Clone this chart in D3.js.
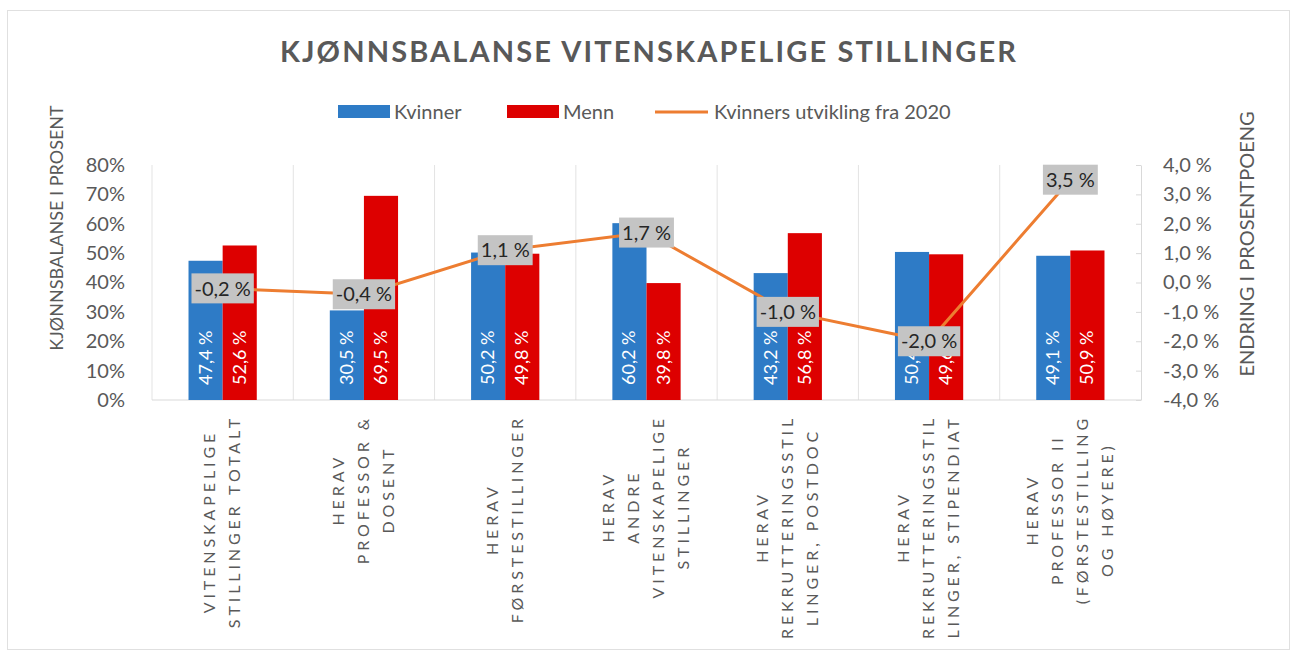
<!DOCTYPE html>
<html lang="no">
<head>
<meta charset="utf-8">
<script src="https://cdn.jsdelivr.net/npm/d3@7"></script>
<style>
body { margin: 0; background: #ffffff; font-family: Lato, "Open Sans", sans-serif; }
.axis text { fill: #595959; font-family: Lato, sans-serif; }
.axis path, .axis line { stroke: #d9d9d9; }
</style>
</head>
<body>
<div id="chart"></div>
<script>
// chart values
var categories = [
  ["VITENSKAPELIGE", "STILLINGER TOTALT"],
  ["HERAV", "PROFESSOR &", "DOSENT"],
  ["HERAV", "FØRSTESTILLINGER"],
  ["HERAV", "ANDRE", "VITENSKAPELIGE", "STILLINGER"],
  ["HERAV", "REKRUTTERINGSSTIL", "LINGER, POSTDOC"],
  ["HERAV", "REKRUTTERINGSSTIL", "LINGER, STIPENDIAT"],
  ["HERAV", "PROFESSOR II", "(FØRSTESTILLING", "OG HØYERE)"]
];
var kvinner = [47.4, 30.5, 50.2, 60.2, 43.2, 50.4, 49.1];
var menn = [52.6, 69.5, 49.8, 39.8, 56.8, 49.6, 50.9];
var utvikling = [-0.2, -0.4, 1.1, 1.7, -1.0, -2.0, 3.5];
var leftTicks = [0, 10, 20, 30, 40, 50, 60, 70, 80];
var rightTicks = [-4, -3, -2, -1, 0, 1, 2, 3, 4];

var width = 1293, height = 657;
var plotL = 152, plotR = 1141, plotT = 165, plotB = 400;

var blue = "#2e7bc6", red = "#dd0000", orange = "#ed7d31";

var no = d3.formatLocale({decimal: ",", thousands: " ", grouping: [3], currency: ["", " kr"], minus: "-"});
var fmt1 = no.format(".1f");

var svg = d3.select("#chart").append("svg")
  .attr("width", width)
  .attr("height", height);

// frame
svg.append("rect")
  .attr("x", 7.5).attr("y", 10.5)
  .attr("width", 1282).attr("height", 639)
  .attr("fill", "#fff")
  .attr("stroke", "#e0e0e0");

// title
svg.append("text")
  .attr("x", 280).attr("y", 62)
  .attr("textLength", 736)
  .attr("lengthAdjust", "spacing")
  .style("font-size", "29px")
  .style("font-weight", "bold")
  .style("fill", "#595959")
  .text("KJØNNSBALANSE VITENSKAPELIGE STILLINGER");

// legend
var legend = svg.append("g").style("font-size", "20px").style("fill", "#595959");
legend.append("rect").attr("x", 338).attr("y", 105).attr("width", 52).attr("height", 13).attr("fill", blue);
legend.append("text").attr("x", 394).attr("y", 119).text("Kvinner");
legend.append("rect").attr("x", 507).attr("y", 105).attr("width", 52).attr("height", 13).attr("fill", red);
legend.append("text").attr("x", 563).attr("y", 119).text("Menn");
legend.append("line").attr("x1", 655).attr("x2", 708).attr("y1", 112).attr("y2", 112)
  .attr("stroke", orange).attr("stroke-width", 3);
legend.append("text").attr("x", 714).attr("y", 119).text("Kvinners utvikling fra 2020");

// scales
var x0 = d3.scaleBand().domain(d3.range(categories.length)).range([plotL, plotR]);
var x1 = d3.scaleBand().domain(["k", "m"]).range([0, x0.bandwidth()]).paddingOuter(1.07);
var yL = d3.scaleLinear().domain([0, 80]).range([plotB, plotT]);
var yR = d3.scaleLinear().domain([-4, 4]).range([plotB, plotT]);

// vertical gridlines between categories
svg.append("g").selectAll("line")
  .data(d3.range(categories.length))
  .enter().append("line")
  .attr("x1", function(d) { return x0(d); })
  .attr("x2", function(d) { return x0(d); })
  .attr("y1", plotT).attr("y2", plotB)
  .attr("stroke", "#e3e3e3");

// left axis
var axL = svg.append("g").attr("class", "axis")
  .attr("transform", "translate(" + plotL + ",0)")
  .call(d3.axisLeft(yL).tickValues(leftTicks).tickSize(0).tickPadding(27)
    .tickFormat(function(d) { return d + "%"; }));
axL.select(".domain").remove();
axL.selectAll("text").style("font-size", "20px");

// right axis
var axR = svg.append("g").attr("class", "axis")
  .attr("transform", "translate(" + plotR + ",0)")
  .call(d3.axisRight(yR).tickValues(rightTicks).tickSizeInner(-5).tickSizeOuter(0).tickPadding(22)
    .tickFormat(function(d) { return fmt1(d) + " %"; }));
axR.selectAll("text").style("font-size", "20px");

// baseline
svg.append("line")
  .attr("x1", plotL).attr("x2", plotR)
  .attr("y1", plotB).attr("y2", plotB)
  .attr("stroke", "#d9d9d9");

// axis titles
svg.append("text")
  .attr("transform", "translate(63,228) rotate(-90)")
  .attr("text-anchor", "middle")
  .style("font-size", "18px").style("fill", "#595959")
  .text("KJØNNSBALANSE I PROSENT");
svg.append("text")
  .attr("transform", "translate(1254,244) rotate(-90)")
  .attr("text-anchor", "middle")
  .style("font-size", "20px").style("fill", "#595959")
  .text("ENDRING I PROSENTPOENG");

// bars
var groups = svg.append("g").selectAll("g")
  .data(categories.map(function(c, i) { return {i: i, k: kvinner[i], m: menn[i]}; }))
  .enter().append("g")
  .attr("transform", function(d) { return "translate(" + x0(d.i) + ",0)"; });

var bars = groups.selectAll("g.bar")
  .data(function(d) { return [{key: "k", v: d.k}, {key: "m", v: d.m}]; })
  .enter().append("g").attr("class", "bar");

bars.append("rect")
  .attr("x", function(d) { return x1(d.key); })
  .attr("width", x1.bandwidth())
  .attr("y", function(d) { return yL(d.v); })
  .attr("height", function(d) { return plotB - yL(d.v); })
  .attr("fill", function(d) { return d.key === "k" ? blue : red; });

bars.append("text")
  .attr("transform", function(d) {
    return "translate(" + (x1(d.key) + x1.bandwidth() / 2 + 6) + "," + (plotB - 15) + ") rotate(-90)";
  })
  .style("font-size", "18px")
  .style("fill", "#fff")
  .text(function(d) { return fmt1(d.v) + " %"; });

// line
var cx = function(i) { return x0(i) + x0.bandwidth() / 2; };
svg.append("path")
  .datum(utvikling)
  .attr("fill", "none")
  .attr("stroke", orange)
  .attr("stroke-width", 3)
  .attr("d", d3.line().x(function(d, i) { return cx(i); }).y(function(d) { return yR(d); }));

// line labels
var lbl = svg.append("g").selectAll("g")
  .data(utvikling)
  .enter().append("g")
  .attr("transform", function(d, i) { return "translate(" + cx(i) + "," + yR(d) + ")"; });
lbl.append("rect")
  .attr("fill", "#c4c4c4");
lbl.append("text")
  .attr("text-anchor", "middle")
  .attr("dy", "0.36em")
  .style("font-size", "20px")
  .style("fill", "#262626")
  .text(function(d) { return fmt1(d) + " %"; });
lbl.each(function() {
  var g = d3.select(this);
  var w = g.select("text").node().getComputedTextLength() + 6;
  g.select("rect").attr("x", -w / 2).attr("y", -15).attr("width", w).attr("height", 30);
});

// category labels
var cat = svg.append("g").selectAll("g")
  .data(categories)
  .enter().append("g")
  .style("font-size", "16px")
  .style("letter-spacing", "3.9px")
  .style("fill", "#595959");
cat.each(function(lines, i) {
  var g = d3.select(this);
  var n = lines.length;
  var texts = g.selectAll("text").data(lines).enter().append("text")
    .attr("text-anchor", "middle")
    .text(function(d) { return d; });
  var maxLen = d3.max(texts.nodes(), function(t) { return t.getComputedTextLength(); });
  var cy = 415 + maxLen / 2;
  texts.attr("transform", function(d, j) {
    var x = cx(i) + (j - (n - 1) / 2) * 25 + 5;
    return "translate(" + x + "," + cy + ") rotate(-90)";
  });
});
</script>
</body>
</html>
